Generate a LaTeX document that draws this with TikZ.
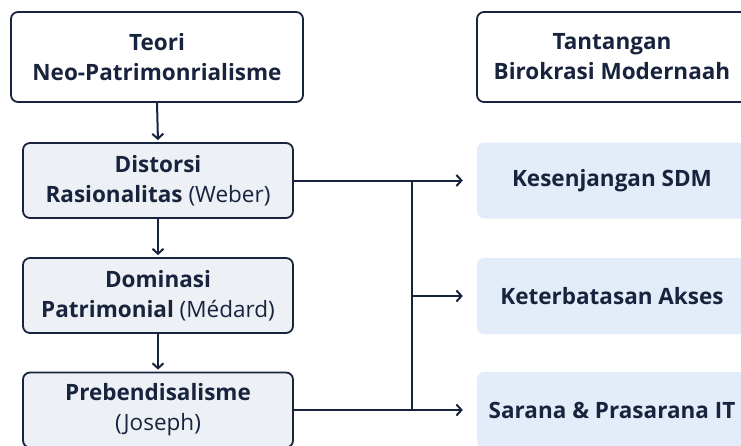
\documentclass[tikz,border=0pt]{standalone}
\usepackage{fontspec}
\setmainfont{Open Sans}
\usetikzlibrary{arrows.meta}

\definecolor{ink}{HTML}{18233D}
\definecolor{grayfill}{HTML}{EDF0F5}
\definecolor{bluefill}{HTML}{E3EDF9}

\begin{document}
\begin{tikzpicture}[x=1pt,y=-1pt,
                    every node/.style={text=ink,font=\fontsize{22.5}{30}\selectfont,align=center,inner sep=0pt},
                    headbox/.style={draw=ink,line width=1.8pt,fill=white,rounded corners=7pt,minimum width=292pt,minimum height=90pt},
                    theorybox/.style={draw=ink,line width=1.8pt,fill=grayfill,rounded corners=7pt,minimum width=270pt,minimum height=75pt},
                    effectbox/.style={fill=bluefill,rounded corners=7pt,minimum width=270pt,minimum height=76pt},
                    link/.style={draw=ink,line width=2pt},
                    arrow/.style={link,-{Straight Barb[length=5pt,width=11pt,line width=2pt]}}
]
\useasboundingbox (0,0) rectangle (741,445);

\node [headbox] at (157,57) (teori) {\bfseries Teori\\\bfseries Neo-Patrimonrialisme};
\node [theorybox] at (158,180.5) (weber) {\bfseries Distorsi\\{\bfseries Rasionalitas} (Weber)};
\node [theorybox] at (158,295.5) (medard) {\bfseries Dominasi\\{\bfseries Patrimonial} (Médard)};
\node [theorybox] at (158,410) (joseph) {\bfseries Prebendisalisme\\(Joseph)};

\node [headbox,minimum width=270pt] at (612,57) (tantangan) {\bfseries Tantangan\\\bfseries Birokrasi Modernaah};
\node [effectbox] at (612,180.5) (sdm) {\bfseries Kesenjangan SDM};
\node [effectbox] at (612,296) (akses) {\bfseries Keterbatasan Akses};
\node [effectbox] at (612,410) (it) {\bfseries Sarana \& Prasarana IT};
\coordinate (bus) at (412,0);

\draw [arrow,shorten >=2pt] (teori.south) -- (weber.north);
\draw [arrow,shorten >=2pt] (weber.south) -- (medard.north);
\draw [arrow,shorten >=2pt] (medard.south) -- (joseph.north);
\draw [arrow,shorten >=14pt] (weber.east) -- (sdm.west);
\draw [arrow,shorten >=14pt] (joseph.east) -- (it.west);
\draw [link] (weber.east -| bus) -- (joseph.east -| bus);
\draw [arrow,shorten >=14pt] (bus |- akses.west) -- (akses.west);

\end{tikzpicture}
\end{document}
